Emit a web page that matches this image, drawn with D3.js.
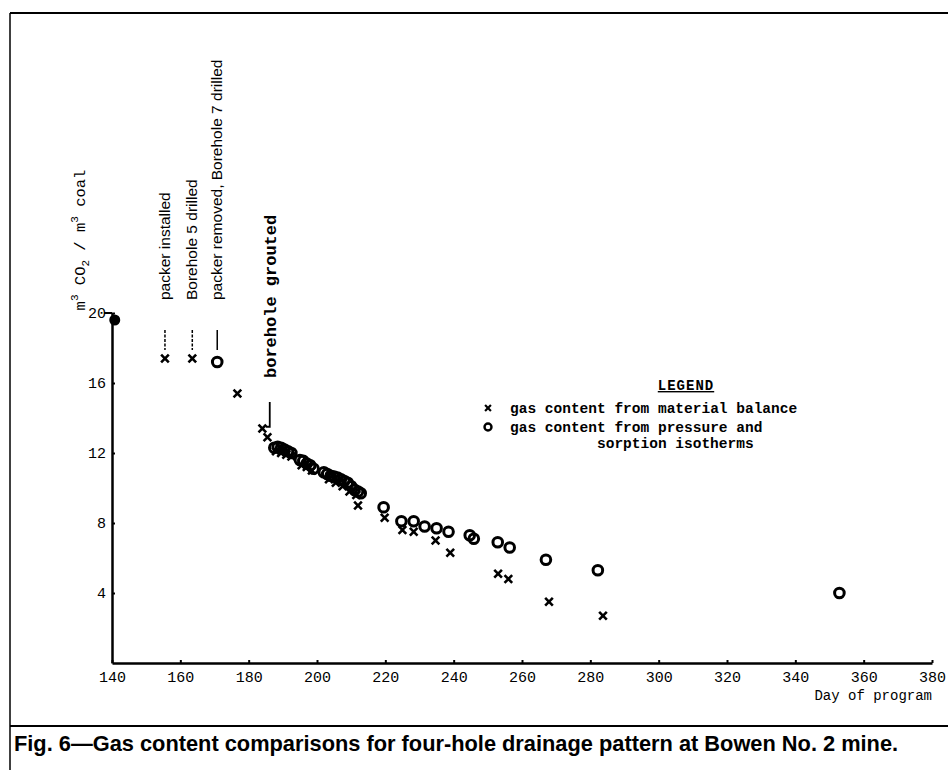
<!DOCTYPE html>
<html>
<head>
<meta charset="utf-8">
<script src="https://cdn.jsdelivr.net/npm/d3@7"></script>
<style>
  body { margin: 0; background: #fff; }
  .mono { font-family: "Liberation Mono", "DejaVu Sans Mono", monospace; }
  .sans { font-family: "Liberation Sans", Arial, sans-serif; }
</style>
</head>
<body>
<div id="chart"></div>
<script>
// tick labels
var xTicks = [140, 160, 180, 200, 220, 240, 260, 280, 300, 320, 340, 360, 380];
var yTicks = [4, 8, 12, 16, 20];

// gas content from material balance (day, m3/m3)
var materialBalance = [
  [155.5, 17.4], [163.5, 17.4], [176.7, 15.4], [184, 13.4], [185.5, 12.9],
  [188, 12.1], [189.5, 12.0], [191, 11.9], [192.5, 11.8],
  [195.5, 11.3], [197, 11.2], [198.5, 11.0],
  [203.5, 10.5], [205.5, 10.3], [207.5, 10.1], [209.5, 9.8], [211.5, 9.6], [212, 9.0],
  [219.8, 8.3], [225, 7.6], [228.3, 7.5], [234.7, 7.0], [239, 6.3],
  [253, 5.1], [256, 4.8], [267.9, 3.5], [283.7, 2.7]
];

// gas content from pressure and sorption isotherms
var pressureSorption = [
  [170.8, 17.2],
  [187.5, 12.3], [188.5, 12.35], [189.5, 12.3], [190.5, 12.2], [191.5, 12.1], [192.5, 12.0],
  [195, 11.6], [196, 11.55], [197, 11.4], [198, 11.3], [199, 11.1],
  [202, 10.9], [203, 10.8], [204, 10.7], [205, 10.65], [206, 10.6], [207, 10.5],
  [208, 10.4], [209, 10.3], [210, 10.1], [211, 9.9], [212, 9.8], [212.8, 9.7],
  [219.5, 8.9], [224.7, 8.1], [228.3, 8.1], [231.5, 7.8], [235, 7.7], [238.5, 7.5],
  [244.7, 7.3], [245.9, 7.1], [252.9, 6.9], [256.4, 6.6], [267, 5.9], [282.2, 5.3],
  [352.9, 4.0]
];

// initial value, drawn filled
var initialPoint = [[140.8, 19.6]];

// events marked above the points
var eventDays = [155.5, 163.5, 170.8];
var eventLabels = ["packer installed", "Borehole 5 drilled", "packer removed, Borehole 7 drilled"];
var groutDay = 185;
var groutLabel = "borehole grouted";

var width = 948, height = 770;

var svg = d3.select("#chart").append("svg")
  .attr("width", width)
  .attr("height", height)
  .style("background", "#fff");

var x = d3.scaleLinear().domain([140, 380]).range([112, 932]);
var y = d3.scaleLinear().domain([0, 20]).range([663, 313]);

// page frame
svg.append("line").attr("x1", 10).attr("x2", width).attr("y1", 13).attr("y2", 13)
  .attr("stroke", "#000").attr("stroke-width", 2);
svg.append("line").attr("x1", 10).attr("x2", 10).attr("y1", 13).attr("y2", height)
  .attr("stroke", "#000").attr("stroke-width", 1.5);
svg.append("line").attr("x1", 10).attr("x2", width).attr("y1", 726).attr("y2", 726)
  .attr("stroke", "#000").attr("stroke-width", 2);

// caption, sized to span the page like the original
var caption = svg.append("text")
  .attr("class", "sans")
  .attr("x", 14)
  .attr("y", 751)
  .attr("font-size", 18)
  .attr("font-weight", "bold")
  .text("Fig. 6\u2014Gas content comparisons for four-hole drainage pattern at Bowen No. 2 mine.");
var capLen = caption.node().getComputedTextLength();
caption.attr("font-size", 18 * 885 / capLen);

// axes
var xAxis = d3.axisBottom(x).tickValues(xTicks).tickSizeInner(-3).tickSizeOuter(0).tickPadding(8);
var yAxis = d3.axisLeft(y).tickValues(yTicks).tickSizeInner(-3).tickSizeOuter(0).tickPadding(6);

var gx = svg.append("g")
  .attr("transform", "translate(0," + y(0) + ")")
  .call(xAxis);
var gy = svg.append("g")
  .attr("transform", "translate(" + x(140) + ",0)")
  .call(yAxis);

[gx, gy].forEach(function(g) {
  g.select(".domain").attr("stroke-width", 2.5);
  g.selectAll(".tick line").attr("stroke-width", 2);
  g.selectAll(".tick text")
    .attr("class", "mono")
    .attr("font-size", 15)
    .attr("fill", "#000");
});

// top tick at 20 sticks out to the left
svg.append("line")
  .attr("x1", x(140) - 8).attr("x2", x(140))
  .attr("y1", y(20)).attr("y2", y(20))
  .attr("stroke", "#000").attr("stroke-width", 2);

// axis titles
svg.append("text")
  .attr("class", "mono")
  .attr("x", x(380))
  .attr("y", 700)
  .attr("text-anchor", "end")
  .attr("font-size", 14)
  .text("Day of program");

var yTitle = svg.append("text")
  .attr("class", "mono")
  .attr("transform", "translate(85,240)rotate(-90)")
  .attr("text-anchor", "middle")
  .attr("font-size", 15.5);
yTitle.append("tspan").text("m");
yTitle.append("tspan").attr("dy", -7).attr("font-size", 11).text("3");
yTitle.append("tspan").attr("dy", 7).text(" CO");
yTitle.append("tspan").attr("dy", 4).attr("font-size", 11).text("2");
yTitle.append("tspan").attr("dy", -4).text(" / m");
yTitle.append("tspan").attr("dy", -7).attr("font-size", 11).text("3");
yTitle.append("tspan").attr("dy", 7).text(" coal");

// event annotations
eventDays.forEach(function(d, i) {
  svg.append("line")
    .attr("x1", x(d)).attr("x2", x(d))
    .attr("y1", 330).attr("y2", 350)
    .attr("stroke", "#000")
    .attr("stroke-width", 1.5)
    .attr("stroke-dasharray", i < 2 ? "3,1.5" : null);
  svg.append("text")
    .attr("class", "sans")
    .attr("transform", "translate(" + (x(d) + 5) + ",300)rotate(-90)")
    .attr("font-size", 15.5)
    .text(eventLabels[i]);
});

svg.append("path")
  .attr("d", "M" + (x(groutDay) + 4) + ",402V" + y(13.5) + "h-4")
  .attr("fill", "none")
  .attr("stroke", "#000")
  .attr("stroke-width", 1.8);
svg.append("text")
  .attr("class", "mono")
  .attr("transform", "translate(" + (x(groutDay) + 10) + ",378)rotate(-90)")
  .attr("font-size", 17)
  .attr("font-weight", "bold")
  .text(groutLabel);

// points
var cross = d3.symbol().type(d3.symbolX).size(40);

svg.append("g").selectAll("path")
  .data(materialBalance)
  .enter().append("path")
  .attr("transform", function(d) { return "translate(" + x(d[0]) + "," + y(d[1]) + ")"; })
  .attr("d", cross)
  .attr("stroke", "#000")
  .attr("stroke-width", 2.6)
  .attr("fill", "none");

svg.append("g").selectAll("circle")
  .data(pressureSorption)
  .enter().append("circle")
  .attr("cx", function(d) { return x(d[0]); })
  .attr("cy", function(d) { return y(d[1]); })
  .attr("r", 4.8)
  .attr("fill", "none")
  .attr("stroke", "#000")
  .attr("stroke-width", 3);

svg.append("g").selectAll("circle")
  .data(initialPoint)
  .enter().append("circle")
  .attr("cx", function(d) { return x(d[0]); })
  .attr("cy", function(d) { return y(d[1]); })
  .attr("r", 5.5)
  .attr("fill", "#000");

// legend
var legend = svg.append("g").attr("class", "mono").attr("font-weight", "bold");
legend.append("text")
  .attr("x", 686).attr("y", 390)
  .attr("text-anchor", "middle")
  .attr("font-size", 14)
  .attr("letter-spacing", 1)
  .attr("text-decoration", "underline")
  .text("LEGEND");
legend.append("path")
  .attr("transform", "translate(488,408)")
  .attr("d", d3.symbol().type(d3.symbolX).size(24))
  .attr("stroke", "#000").attr("stroke-width", 2.2);
legend.append("text")
  .attr("x", 510).attr("y", 413)
  .attr("font-size", 14.5)
  .text("gas content from material balance");
legend.append("circle")
  .attr("cx", 488).attr("cy", 427).attr("r", 3.5)
  .attr("fill", "none").attr("stroke", "#000").attr("stroke-width", 2.4);
legend.append("text")
  .attr("x", 510).attr("y", 432)
  .attr("font-size", 14.5)
  .text("gas content from pressure and");
legend.append("text")
  .attr("x", 597).attr("y", 448)
  .attr("font-size", 14.5)
  .text("sorption isotherms");
</script>
</body>
</html>
